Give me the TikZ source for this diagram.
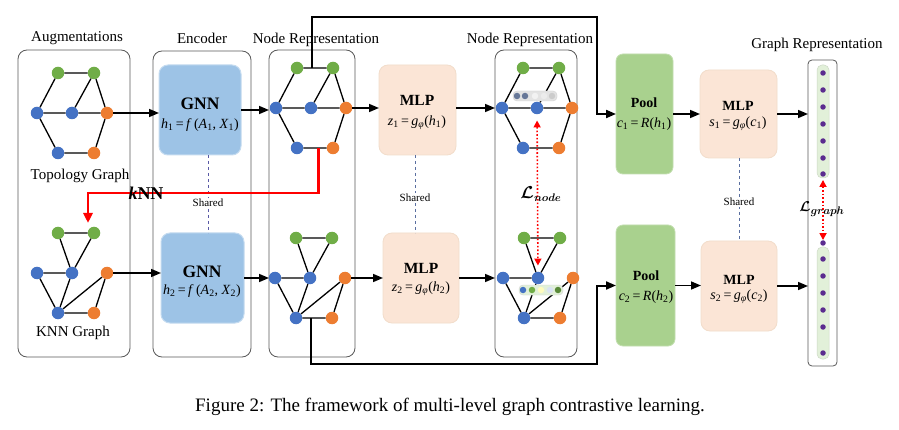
\documentclass[tikz,border=0pt]{standalone}
\usepackage{fontspec}
\setmainfont{Liberation Serif}
\usepackage{amsmath}
\usetikzlibrary{arrows.meta,calc}
\definecolor{ngreen}{HTML}{70AD47}
\definecolor{nblue}{HTML}{4472C4}
\definecolor{norange}{HTML}{ED7D31}
\definecolor{gnnblue}{HTML}{9DC3E6}
\definecolor{mlppeach}{HTML}{FBE5D6}
\definecolor{poolgreen}{HTML}{A9D18E}
\definecolor{panelgray}{HTML}{595959}
\definecolor{sharedblue}{HTML}{5A6FA0}
\definecolor{barfill}{HTML}{E2F0D9}
\definecolor{dotpurple}{HTML}{5B2C8F}
\newcommand{\vi}[1]{\textit{#1}}
\newcommand{\sbx}[1]{\textsubscript{#1}}
\newcommand{\eqs}{\,=\,}
\tikzset{
  gn/.style={circle, inner sep=0pt, minimum size=12.5pt, fill=ngreen},
  bn/.style={circle, inner sep=0pt, minimum size=12.5pt, fill=nblue},
  on/.style={circle, inner sep=0pt, minimum size=12.5pt, fill=norange},
  gedge/.style={line width=1.3pt, black},
  conn/.style={line width=1.6pt, -{Triangle[length=10pt,width=8pt]}},
  route/.style={line width=2pt, -{Triangle[length=10pt,width=8pt]}},
  panel/.style={draw=panelgray, line width=0.8pt, rounded corners=9pt, outer sep=0pt, inner sep=0pt},
  gnnbox/.style={fill=gnnblue, draw=gnnblue!60!white, line width=1pt, rounded corners=9pt, outer sep=0pt},
  mlpbox/.style={fill=mlppeach, draw=mlppeach!70!brown!60!white, line width=0.8pt, rounded corners=9pt, outer sep=0pt},
  poolbox/.style={fill=poolgreen, draw=poolgreen!70!white, line width=0.8pt, rounded corners=7pt, outer sep=0pt},
  lab/.style={font=\fontsize{15}{17}\selectfont, inner sep=1pt},
  bigb/.style={font=\fontsize{17.5}{19}\selectfont\bfseries, inner sep=1pt},
  midb/.style={font=\fontsize{15.5}{17}\selectfont\bfseries, inner sep=1pt},
  smb/.style={font=\fontsize{14}{15}\selectfont\bfseries, inner sep=1pt},
  fml/.style={font=\fontsize{14}{16}\selectfont, inner sep=1pt},
  sharedlab/.style={font=\fontsize{11}{13}\selectfont, fill=white, inner sep=1pt},
  shared/.style={draw=sharedblue, dashed, line width=0.8pt},
  redline/.style={draw=red, line width=2.5pt, -{Triangle[length=10pt,width=9pt]}},
  reddot/.style={draw=red, dotted, line width=1.6pt, {Triangle[length=7pt,width=7pt]}-{Triangle[length=7pt,width=7pt]}},
  bar/.style={fill=barfill, draw=barfill!80!gray, line width=0.5pt, rounded corners=5pt, outer sep=0pt},
  gdot/.style={circle, fill=dotpurple, inner sep=0pt, minimum size=5.5pt},
  cdot/.style={circle, inner sep=0pt, minimum size=6.5pt},
}
\newcommand{\hexgraph}[3]{%
  \node[gn] (#1g1) at ({#2+21},{#3-40}) {};
  \node[gn] (#1g2) at ({#2+57},{#3-40}) {};
  \node[bn] (#1bl) at (#2,#3) {};
  \node[bn] (#1bm) at ({#2+35},#3) {};
  \node[on] (#1o) at ({#2+70},#3) {};
  \node[bn] (#1bb) at ({#2+21},{#3+40}) {};
  \node[on] (#1ob) at ({#2+57},{#3+40}) {};
  \draw[gedge] (#1g1)--(#1g2) (#1g1)--(#1bl) (#1g2)--(#1bm) (#1g2)--(#1o)
    (#1bl)--(#1bm) (#1bm)--(#1o) (#1bl)--(#1bb) (#1o)--(#1ob) (#1bb)--(#1ob);
}
\newcommand{\knngraph}[3]{%
  \node[gn] (#1g1) at ({#2+21},{#3-40}) {};
  \node[gn] (#1g2) at ({#2+57},{#3-40}) {};
  \node[bn] (#1bl) at (#2,#3) {};
  \node[bn] (#1bm) at ({#2+35},#3) {};
  \node[on] (#1o) at ({#2+70},#3) {};
  \node[bn] (#1bb) at ({#2+21},{#3+40}) {};
  \node[on] (#1ob) at ({#2+57},{#3+40}) {};
  \draw[gedge] (#1g1)--(#1g2) (#1g1)--(#1bm) (#1g2)--(#1bm) (#1bl)--(#1bm)
    (#1bl)--(#1bb) (#1bm)--(#1bb) (#1bb)--(#1o) (#1bb)--(#1ob) (#1o)--(#1ob);
}
\begin{document}
\begin{tikzpicture}[x=1pt,y=-1pt]
\useasboundingbox[fill=white] (0,0) rectangle (899,430);

% panels
\node[panel, minimum width=112pt, minimum height=307pt] (augbox) at (74,203.5) {};
\node[panel, minimum width=98pt, minimum height=306pt] (encbox) at (202,204) {};
\node[panel, minimum width=86pt, minimum height=307pt] (nr1) at (312,203.5) {};
\node[panel, minimum width=82pt, minimum height=307pt] (nr2) at (536,203.5) {};
\node[panel, minimum width=29pt, minimum height=306pt, rounded corners=4pt] (grbox) at (822.5,213) {};

% titles
\node[lab] (augt) at (77,38) {Augmentations};
\node[lab] (enct) at (202,38) {Encoder};
\node[lab] (nrt1) at (316,40) {Node Representation};
\node[lab] (nrt2) at (530,40) {Node Representation};
\node[lab] (grt) at (817,45) {Graph Representation};

% graphs
\hexgraph{t}{37}{113}
\knngraph{k}{37}{273}
\hexgraph{p}{276}{108}
\knngraph{q}{275}{278}
\hexgraph{r}{502}{108}
\knngraph{s}{503}{278}

\node[lab] (topolab) at (80,176) {Topology Graph};
\node[lab] (knnlab) at (73,333) {KNN Graph};

% embedding chips
\node[fill=gray!22, draw=gray!35, rounded corners=4pt, minimum width=44pt, minimum height=10pt, inner sep=0pt] (chip1) at (535,96) {};
\node[cdot, fill=nblue!55!black!70] (c1a) at (517,96) {};
\node[cdot, fill=nblue!55!black!70] (c1b) at (525,96) {};
\node[cdot, fill=gray!10] (c1c) at (535,96) {};
\node[cdot, fill=gray!15] (c1d) at (544,96) {};
\node[cdot, fill=gray!40] (c1e) at (552,96) {};
\node[fill=barfill, draw=gray!35, rounded corners=4pt, minimum width=44pt, minimum height=10pt, inner sep=0pt] (chip2) at (541,290) {};
\node[cdot, fill=nblue] (c2a) at (523,290) {};
\node[cdot, fill=ngreen] (c2b) at (532,290) {};
\node[cdot, fill=yellow!25] (c2c) at (541,290) {};
\node[cdot, fill=nblue!20] (c2d) at (550,290) {};
\node[cdot, fill=ngreen!80!black] (c2e) at (558,290) {};

% boxes
\node[gnnbox, minimum width=82pt, minimum height=90pt] (gnn1) at (200,110) {};
\node[gnnbox, minimum width=83pt, minimum height=90pt] (gnn2) at (202.5,278) {};
\node[mlpbox, minimum width=77pt, minimum height=90pt] (mlp1) at (417.5,110) {};
\node[mlpbox, minimum width=76pt, minimum height=90pt] (mlp2) at (421,278) {};
\node[poolbox, minimum width=57pt, minimum height=120pt] (pool1) at (644.5,114) {};
\node[poolbox, minimum width=59pt, minimum height=121pt] (pool2) at (645.5,285.5) {};
\node[mlpbox, minimum width=77pt, minimum height=88pt] (mlp3) at (738.5,114) {};
\node[mlpbox, minimum width=76pt, minimum height=90pt] (mlp4) at (739,286) {};

% box texts
\node[bigb] (gnn1t) at (200,104) {GNN};
\node[fml] (gnn1f) at (200,125) {\vi{h}\sbx{1}\eqs\vi{f}\,(\vi{A}\sbx{1}, \vi{X}\sbx{1})};
\node[bigb] (gnn2t) at (202,272) {GNN};
\node[fml] (gnn2f) at (202,291) {\vi{h}\sbx{2}\eqs\vi{f}\,(\vi{A}\sbx{2}, \vi{X}\sbx{2})};
\node[midb] (mlp1t) at (417,100) {MLP};
\node[fml] (mlp1f) at (417,123) {\vi{z}\sbx{1}\eqs\vi{g}\sbx{\vi{φ}}(\vi{h}\sbx{1})};
\node[midb] (mlp2t) at (421,268) {MLP};
\node[fml] (mlp2f) at (421,289) {\vi{z}\sbx{2}\eqs\vi{g}\sbx{\vi{φ}}(\vi{h}\sbx{2})};
\node[smb] (pool1t) at (644,103) {Pool};
\node[fml] (pool1f) at (644,124) {\vi{c}\sbx{1}\eqs\vi{R}(\vi{h}\sbx{1})};
\node[smb] (pool2t) at (646,276) {Pool};
\node[fml] (pool2f) at (646,297) {\vi{c}\sbx{2}\eqs\vi{R}(\vi{h}\sbx{2})};
\node[smb] (mlp3t) at (738,106) {MLP};
\node[fml] (mlp3f) at (738,124) {\vi{s}\sbx{1}\eqs\vi{g}\sbx{\vi{φ}}(\vi{c}\sbx{1})};
\node[smb] (mlp4t) at (739,280) {MLP};
\node[fml] (mlp4f) at (739,297) {\vi{s}\sbx{2}\eqs\vi{g}\sbx{\vi{φ}}(\vi{c}\sbx{2})};

% shared links
\coordinate (sh1a) at (208,155); \coordinate (sh1b) at (208,233);
\coordinate (sh2a) at (415,155); \coordinate (sh2b) at (415,233);
\coordinate (sh3a) at (739,158); \coordinate (sh3b) at (739,241);
\draw[shared, draw=gray!70!blue] (sh1a) -- (sh1b);
\draw[shared] (sh2a) -- (sh2b);
\draw[shared] (sh3a) -- (sh3b);

% graph representation bars
\node[bar, minimum width=12pt, minimum height=113pt] (bar1) at (823,121.5) {};
\node[bar, minimum width=12pt, minimum height=112pt] (bar2) at (823,303) {};
\foreach \yy [count=\i] in {73,90,107,124,141,158,174} {\node[gdot] (u\i) at (823,\yy) {};}
\foreach \yy [count=\i] in {243,259,276,293,310,327,353} {\node[gdot] (l\i) at (823,\yy) {};}

% connectors
\draw[conn] (to) -- (to -| gnn1.west);
\draw[conn] (gnn1.east) -- (gnn1.east -| nr1.west);
\draw[conn] (po) -- (po -| mlp1.west);
\draw[conn] (mlp1.east |- po) -- (po -| nr2.west);
\draw[conn] (ko) -- (ko -| gnn2.west);
\draw[conn] (gnn2.east) -- (gnn2.east -| nr1.west);
\draw[conn] (qo) -- (qo -| mlp2.west);
\draw[conn] (mlp2.east |- qo) -- (qo -| nr2.west);
\draw[conn] (pool1.east) -- (pool1.east -| mlp3.west);
\draw[conn] (pool2.east) -- (pool2.east -| mlp4.west);
\draw[conn] (mlp3.east) -- (mlp3.east -| grbox.west);
\draw[conn] (mlp4.east) -- (mlp4.east -| grbox.west);

% routing lines to pooling
\coordinate (ptop) at ($(pg1)!0.42!(pg2)$);
\coordinate (routeT) at (597,17);
\coordinate (pbot) at ($(qbb)!0.42!(qob)$);
\coordinate (routeB) at (597,364);
\draw[route] (ptop) |- (routeT) |- (pool1.west);
\draw[route] (pbot) |- (routeB) |- (pool2.west);

% kNN red line
\coordinate (kstart) at ($(pbb)!0.6!(pob)$);
\coordinate (kturn) at (88,193);
\coordinate (kend) at (88,223);
\draw[redline] (kstart) |- (kturn) -- (kend);
\node[font=\fontsize{18}{20}\selectfont\bfseries, inner sep=0pt] (knnt) at (146,193) {\textit{k}NN};

% shared labels
\node[sharedlab] (shl1) at (208,203) {Shared};
\node[sharedlab] (shl2) at (415,198) {Shared};
\node[sharedlab] (shl3) at (739,202) {Shared};

% contrastive losses
\draw[reddot, shorten <=6pt, shorten >=6pt] (rbm) -- (sbm);
\node[font=\fontsize{16}{18}\selectfont, inner sep=0pt] (lnode) at (541,194) {$\boldsymbol{\mathcal{L}}_{\boldsymbol{node}}$};
\draw[reddot, shorten <=3pt, shorten >=0pt] (u7) -- (l1);
\node[font=\fontsize{15}{17}\selectfont, inner sep=0pt] (lgraph) at (822,209) {$\boldsymbol{\mathcal{L}}_{\boldsymbol{graph}}$};

% caption
\node[font=\fontsize{19}{21}\selectfont] (cap) at (450,407) {Figure 2: The framework of multi-level graph contrastive learning.};
\end{tikzpicture}
\end{document}
